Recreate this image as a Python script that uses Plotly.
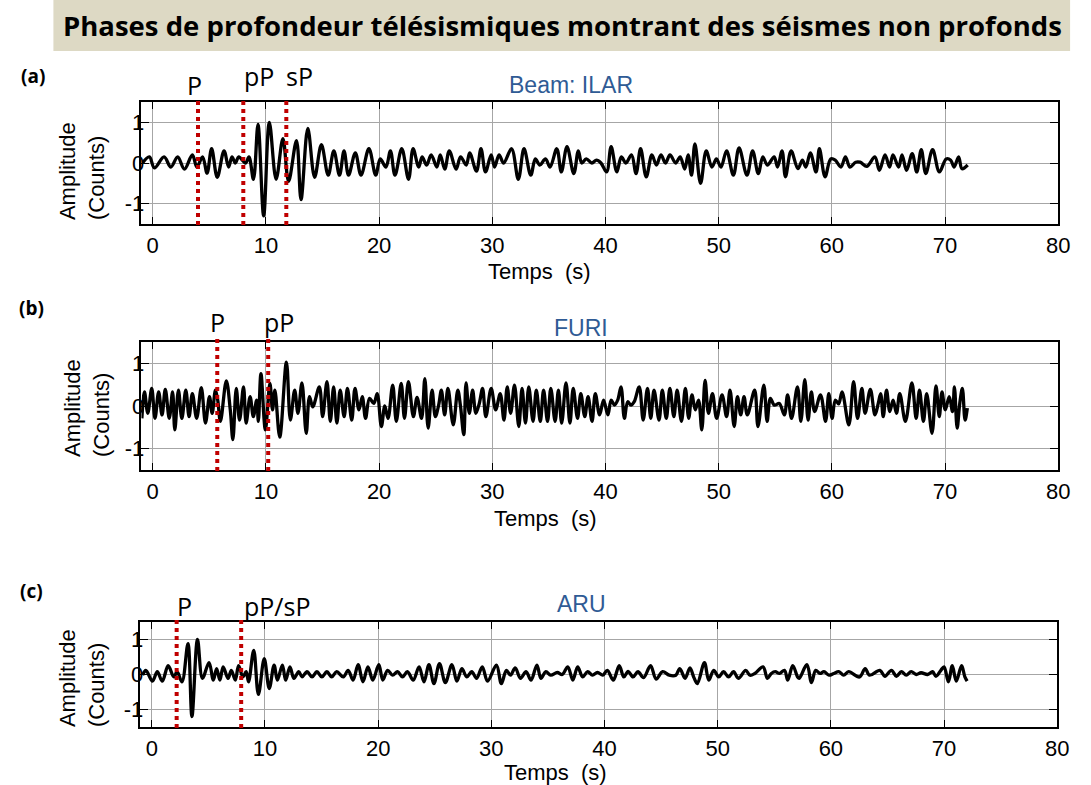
import plotly.graph_objects as go

W, H = 1091, 785

# ---------------- data ----------------
t_ilar = [-0.9, -0.3, 0.15, 1.0, 1.6, 2.2, 2.8, 3.5, 3.9, 4.4, 4.8, 5.2, 5.7, 6.3, 6.7, 7.0, 7.3, 7.6, 8.2, 8.5,
          8.9, 9.3, 9.8, 10.3, 10.9, 11.5, 12.0, 12.7, 13.1, 13.7, 14.3, 14.9, 15.5, 16.0, 16.5, 16.9, 17.3, 17.9,
          18.4, 19.1, 19.7, 20.1, 20.6, 21.0, 21.4, 22.0, 22.6, 23.0, 23.5, 23.8, 24.2, 24.6, 25.1, 25.4, 25.8,
          26.2, 26.8, 27.2, 27.7, 28.0, 28.6, 29.0, 29.4, 29.9, 30.2, 30.6, 31.0, 31.7, 32.3, 32.8, 33.4, 33.8,
          34.2, 34.7, 35.1, 35.7, 36.1, 36.6, 37.2, 37.6, 37.9, 38.3, 38.8, 39.2, 39.6, 40.1, 40.5, 41.0, 41.4,
          41.8, 42.3, 42.7, 43.1, 43.6, 44.1, 44.5, 44.9, 45.3, 45.7, 46.2, 46.6, 47.0, 47.3, 47.6, 47.9, 48.4,
          48.9, 49.4, 49.8, 50.2, 50.7, 51.3, 51.8, 52.5, 53.0, 53.5, 53.9, 54.3, 54.9, 55.2, 55.6, 55.9, 56.4,
          57.0, 57.4, 57.7, 58.1, 58.6, 58.9, 59.4, 59.9, 60.3, 60.8, 61.2, 61.6, 62.1, 62.5, 63.1, 63.8, 64.2,
          64.7, 65.1, 65.4, 65.9, 66.2, 66.6, 67.1, 67.5, 67.9, 68.3, 68.9, 69.5, 70.1, 70.5, 70.8, 71.2, 71.5,
          72.0]
a_ilar = [0.0, 0.15, -0.12, 0.15, -0.1, 0.15, -0.15, 0.2, -0.1, 0.15, -0.25, 0.35, -0.35, 0.3, -0.1, 0.15, 0.0,
          0.15, 0.0, 0.15, -0.4, 0.95, -1.3, 1.0, -0.4, 0.6, -0.45, 0.55, -0.9, 0.85, -0.35, 0.45, -0.3, 0.3, -0.3,
          0.3, -0.3, 0.25, -0.3, 0.35, -0.3, 0.1, -0.1, 0.3, -0.3, 0.35, -0.4, 0.35, -0.1, 0.15, -0.05, 0.2, -0.1,
          0.2, -0.15, 0.3, -0.15, 0.15, -0.05, 0.25, -0.2, 0.35, -0.22, 0.2, -0.1, 0.2, 0.0, 0.35, -0.4, 0.35,
          -0.3, 0.1, -0.05, 0.1, -0.1, 0.35, -0.22, 0.4, -0.26, 0.3, 0.0, 0.1, 0.0, 0.07, 0.0, -0.22, 0.4, -0.22,
          0.15, 0.0, 0.2, -0.26, 0.35, -0.34, 0.2, -0.05, 0.2, 0.0, 0.2, 0.0, 0.15, -0.15, 0.2, -0.3, 0.47, -0.5,
          0.3, -0.1, 0.1, -0.1, 0.3, -0.3, 0.37, -0.3, 0.3, -0.26, 0.15, -0.05, 0.15, -0.1, 0.3, -0.34, 0.3,
          -0.14, 0.07, -0.1, 0.25, -0.22, 0.35, -0.34, 0.1, 0.07, -0.1, 0.15, -0.1, 0.02, 0.02, -0.08, 0.15,
          -0.18, 0.2, -0.1, 0.2, -0.1, 0.2, -0.18, 0.23, -0.22, 0.33, -0.26, 0.33, -0.22, 0.1, 0.07, -0.1, 0.15,
          -0.14, -0.05]

t_furi = [-0.96, -0.73, -0.44, -0.09, 0.2, 0.52, 0.82, 1.11, 1.46, 1.75, 1.95, 2.27, 2.57, 2.92, 3.21, 3.5, 3.88,
          4.29, 4.66, 5.01, 5.25, 5.54, 5.74, 5.98, 6.5, 6.85, 7.08, 7.38, 7.67, 8.02, 8.25, 8.6, 8.89, 9.18, 9.33,
          9.56, 9.95, 10.35, 10.58, 10.79, 11.22, 11.81, 12.16, 12.54, 12.83, 13.18, 13.56, 13.85, 14.14, 14.72,
          15.01, 15.39, 15.69, 15.98, 16.27, 16.56, 16.91, 17.2, 17.58, 17.87, 18.22, 18.51, 18.8, 19.15, 19.53,
          19.83, 20.2, 20.5, 20.79, 21.2, 21.52, 21.95, 22.24, 22.59, 23.03, 23.35, 23.75, 24.04, 24.33, 24.68,
          24.97, 25.26, 25.5, 25.79, 26.08, 26.55, 26.95, 27.18, 27.48, 27.68, 27.97, 28.26, 28.55, 28.85, 29.14,
          29.43, 29.9, 30.3, 30.7, 31.03, 31.32, 31.62, 31.96, 32.34, 32.63, 32.93, 33.22, 33.6, 33.89, 34.24,
          34.53, 34.88, 35.17, 35.55, 35.84, 36.13, 36.51, 36.86, 37.15, 37.53, 37.82, 38.17, 38.46, 38.81, 39.1,
          39.48, 39.83, 40.21, 40.5, 40.79, 41.08, 41.37, 41.67, 41.96, 42.25, 42.54, 42.98, 43.33, 43.71, 44.0,
          44.29, 44.73, 45.02, 45.37, 45.69, 46.04, 46.33, 46.71, 47.06, 47.35, 47.64, 47.93, 48.22, 48.51, 48.8,
          49.1, 49.45, 49.82, 50.3, 50.7, 51.0, 51.37, 51.66, 51.95, 52.24, 52.53, 53.18, 53.47, 53.99, 54.28,
          54.57, 54.92, 55.36, 55.8, 56.09, 56.44, 56.96, 57.26, 57.61, 57.9, 58.19, 58.48, 59.0, 59.44, 59.73,
          60.02, 60.31, 60.6, 60.9, 61.5, 61.92, 62.27, 62.65, 62.94, 63.4, 63.81, 64.1, 64.31, 64.54, 64.83,
          65.12, 65.41, 65.71, 66.0, 66.5, 67.07, 67.45, 67.74, 68.09, 68.38, 68.85, 69.2, 69.49, 69.73, 70.02,
          70.37, 70.66, 70.83, 71.07, 71.3, 71.53, 71.77, 71.97]
a_furi = [-0.29, 0.33, -0.17, 0.41, -0.29, 0.33, -0.21, 0.39, -0.29, 0.33, -0.56, 0.37, -0.29, 0.37, -0.25, 0.29,
          -0.29, 0.43, -0.4, 0.22, -0.17, 0.37, 0.14, -0.36, 0.59, -0.09, -0.79, 0.41, -0.33, 0.45, -0.4, 0.22,
          -0.25, 0.14, -0.36, 0.76, -0.56, 0.53, -0.09, 0.37, -0.73, 1.03, -0.33, 0.37, -0.17, 0.54, -0.64, 0.22,
          -0.02, 0.45, -0.25, 0.57, -0.36, 0.45, -0.4, 0.37, -0.25, 0.41, -0.33, 0.41, -0.09, 0.22, -0.29, 0.18,
          0.06, 0.29, -0.48, 0.0, -0.29, 0.49, -0.36, 0.53, -0.29, 0.57, -0.25, 0.2, -0.29, 0.64, -0.52, 0.37,
          -0.25, 0.02, 0.37, -0.21, 0.41, -0.44, 0.37, 0.02, -0.67, 0.54, -0.17, 0.37, -0.17, 0.06, 0.41, -0.25,
          0.41, -0.09, 0.29, -0.33, 0.45, -0.17, 0.49, -0.48, 0.41, -0.4, 0.45, -0.36, 0.37, -0.36, 0.37, -0.36,
          0.41, -0.36, 0.37, -0.4, 0.54, -0.4, 0.41, -0.29, 0.29, -0.25, 0.22, -0.36, 0.29, -0.21, 0.14, -0.21,
          0.14, 0.02, 0.14, 0.45, -0.29, 0.1, 0.02, 0.1, 0.45, -0.33, 0.41, -0.29, 0.37, -0.33, 0.37, -0.29, 0.41,
          -0.25, 0.37, -0.36, 0.41, -0.29, 0.26, -0.09, 0.14, -0.56, 0.6, -0.17, 0.29, -0.29, 0.26, -0.25, 0.37,
          -0.48, 0.22, -0.21, 0.22, -0.21, 0.37, -0.48, 0.49, -0.36, 0.18, 0.02, 0.06, -0.21, 0.26, -0.29, 0.45,
          -0.36, 0.62, -0.33, 0.33, -0.13, 0.26, -0.36, 0.29, -0.29, 0.14, 0.05, 0.33, -0.44, 0.57, -0.29, 0.41,
          -0.17, 0.39, -0.21, 0.06, 0.29, -0.25, 0.37, -0.13, 0.14, -0.17, 0.29, -0.36, 0.54, -0.29, 0.37, -0.36,
          0.29, -0.64, 0.47, -0.25, 0.33, -0.09, 0.22, -0.13, 0.45, -0.52, 0.06, 0.41, -0.33, -0.05]

t_aru = [-0.81, -0.52, 0.06, 0.49, 0.93, 1.45, 1.95, 2.24, 2.67, 3.2, 3.55, 4.04, 4.48, 5.06, 5.44, 5.73, 6.02,
         6.31, 6.74, 7.03, 7.38, 7.67, 8.05, 8.34, 8.55, 9.01, 9.42, 9.94, 10.38, 10.81, 11.1, 11.54, 11.83, 12.21,
         12.56, 12.99, 13.28, 13.72, 14.16, 14.59, 15.03, 15.47, 15.9, 16.34, 16.92, 17.35, 17.79, 18.23, 18.66,
         19.1, 19.53, 20.06, 20.41, 20.84, 21.28, 21.72, 22.15, 22.59, 23.1, 23.62, 24.05, 24.49, 24.93, 25.42,
         25.94, 26.52, 26.96, 27.4, 27.83, 28.27, 28.7, 29.2, 29.67, 30.45, 30.89, 31.33, 31.7, 32.11, 32.58,
         33.07, 33.51, 34.03, 34.38, 34.82, 35.25, 35.83, 36.27, 36.76, 37.2, 37.63, 38.07, 38.51, 38.94, 39.38,
         39.85, 40.25, 40.78, 41.3, 41.71, 42.09, 42.52, 42.96, 43.45, 44.07, 44.56, 45.14, 45.72, 46.3, 46.65,
         47.12, 47.55, 47.9, 48.2, 48.83, 49.21, 49.65, 50.09, 50.52, 50.96, 51.4, 51.83, 52.47, 52.85, 53.28,
         54.01, 54.39, 54.74, 55.09, 55.46, 55.9, 56.19, 56.63, 57.06, 57.2, 57.88, 58.29, 58.66, 59.04, 59.39,
         59.83, 60.26, 60.7, 61.13, 61.57, 62.53, 63.03, 63.41, 64.33, 64.77, 65.35, 65.79, 66.23, 66.66, 67.1,
         67.54, 67.97, 68.55, 68.99, 69.28, 69.72, 70.0, 70.39, 70.73, 71.08, 71.55, 71.84, 72.04]
a_aru = [-0.02, 0.12, -0.19, 0.08, -0.19, 0.25, -0.07, 0.08, -0.21, 0.88, -1.2, 1.0, -0.11, 0.34, -0.16, 0.17,
         -0.16, 0.22, -0.11, 0.12, -0.16, 0.25, -0.07, 0.08, -0.21, 0.69, -0.57, 0.45, -0.4, 0.27, -0.16, 0.27,
         -0.16, 0.22, -0.11, 0.08, -0.07, 0.08, -0.07, 0.08, -0.07, 0.08, -0.07, 0.08, -0.07, 0.12, -0.16, 0.28,
         -0.21, 0.22, -0.16, 0.28, -0.16, 0.12, -0.02, 0.08, -0.07, 0.08, -0.16, 0.22, -0.21, 0.28, -0.26, 0.31,
         -0.23, 0.28, -0.19, 0.17, -0.07, 0.08, -0.11, 0.22, -0.19, 0.27, -0.26, 0.12, -0.02, 0.19, -0.11, 0.08,
         -0.16, 0.27, -0.11, 0.08, -0.02, 0.06, 0.0, 0.22, -0.16, 0.22, -0.07, 0.08, -0.02, 0.06, -0.02, 0.12,
         -0.16, 0.25, -0.07, 0.09, -0.07, 0.08, -0.09, 0.25, -0.13, 0.08, -0.02, -0.02, 0.17, -0.11, 0.19, -0.09,
         -0.26, 0.34, -0.16, 0.12, -0.07, 0.08, -0.07, 0.08, -0.11, 0.12, -0.02, 0.03, 0.22, -0.11, 0.03, 0.08,
         0.03, 0.12, -0.16, 0.25, -0.07, -0.11, 0.28, -0.23, 0.12, 0.03, 0.08, -0.02, 0.03, 0.08, -0.02, 0.08,
         -0.07, 0.17, -0.02, 0.12, -0.05, 0.12, -0.05, 0.08, -0.02, 0.08, 0.0, 0.05, 0.0, 0.08, -0.05, 0.12, 0.22,
         -0.21, 0.25, -0.19, 0.25, -0.07, -0.19]

stations = ["Beam: ILAR", "FURI", "ARU"]
panel_tags = ["(a)", "(b)", "(c)"]
phase_names = [["P", "pP", "sP"], ["P", "pP"], ["P", "pP/sP"]]
phase_times = [[4.0, 8.0, 11.8], [5.7, 10.2], [2.2, 7.9]]
x_ticks = [0, 10, 20, 30, 40, 50, 60, 70, 80]
y_ticks = [-1, 0, 1]
y_tick_text = ["-1", "0", "1"]
title_text = "Phases de profondeur télésismiques montrant des séismes non profonds"
x_title = "Temps\u00a0 (s)"
y_title = "Amplitude<br>(Counts)"

series = [(t_ilar, a_ilar), (t_furi, a_furi), (t_aru, a_aru)]

# ---------------- layout geometry (pixels) ----------------
def px(x):
    return x / W

def py(y):
    return 1 - y / H

frames = [  # left, right, top, bottom
    (143, 1070, 102, 224),
    (143, 1070, 342, 470),
    (142, 1069, 622, 727),
]
station_pos = [(577, 85), (587, 328), (588, 604)]
tag_pos = [(33, 76), (32, 308), (32, 591)]
xtitle_pos = [(545, 272), (552, 518), (562, 772)]
ytitle_pos = [(83, 171), (88, 408), (83, 678)]
phase_label_pos = [[(197, 85), (262, 76), (303, 76)],
                   [(220, 322), (282, 322)],
                   [(187, 606), (280, 606)]]

AX_FONT = dict(family="Liberation Sans, Arial, sans-serif", size=22, color="black")
TXT_FONT = "Open Sans, Noto Sans, sans-serif"
RED = "#c00000"
BLUE = "#2f5b95"
GRID = "#a6a6a6"

fig = go.Figure()
layout = dict(
    width=W, height=H, autosize=False,
    margin=dict(l=0, r=0, t=0, b=0),
    paper_bgcolor="white", plot_bgcolor="white",
    showlegend=False,
    annotations=[], shapes=[],
)

# title band
layout["shapes"].append(dict(type="rect", xref="paper", yref="paper",
                             x0=px(54), x1=px(1082), y0=py(51), y1=py(0),
                             fillcolor="#ddd9c4", line=dict(width=0), layer="below"))
layout["annotations"].append(dict(text="<b>" + title_text + "</b>", xref="paper", yref="paper",
                                  x=px(569), y=py(26), xanchor="center", yanchor="middle",
                                  showarrow=False, font=dict(family=TXT_FONT, size=27.5, color="black")))

for i, ((t, a), (l, r, top, bot)) in enumerate(zip(series, frames)):
    n = "" if i == 0 else str(i + 1)
    xa, ya = "xaxis" + n, "yaxis" + n
    xr, yr = "x" + n, "y" + n
    fig.add_trace(go.Scatter(x=t, y=a, mode="lines", xaxis=xr, yaxis=yr,
                             line=dict(color="black", width=3.3, shape="spline", smoothing=1.0),
                             hoverinfo="skip"))
    layout[xa] = dict(domain=[px(l), px(r)], range=[-1, 80], anchor=yr,
                      tickmode="array", tickvals=x_ticks, ticks="inside", ticklen=7,
                      tickcolor="black", tickwidth=1.2,
                      showline=True, linecolor="black", linewidth=1.5, mirror="ticks",
                      showgrid=True, gridcolor=GRID, gridwidth=1, zeroline=False,
                      tickfont=AX_FONT, ticklabelstandoff=1, fixedrange=True)
    layout[ya] = dict(domain=[py(bot), py(top)], range=[-1.5, 1.5], anchor=xr,
                      tickmode="array", tickvals=y_ticks, ticktext=y_tick_text,
                      ticks="inside", ticklen=8, tickcolor="black", tickwidth=1.2,
                      showline=True, linecolor="black", linewidth=1.5, mirror="ticks",
                      showgrid=True, gridcolor=GRID, gridwidth=1, zeroline=False,
                      tickfont=AX_FONT, ticklabelstandoff=-9, fixedrange=True)
    # phase markers
    for name, tp, (lx, ly) in zip(phase_names[i], phase_times[i], phase_label_pos[i]):
        layout["shapes"].append(dict(type="line", xref=xr, yref="paper", x0=tp, x1=tp,
                                     y0=py(bot + 1), y1=py(top - 4),
                                     line=dict(color=RED, width=4, dash="dot"), layer="above"))
        layout["annotations"].append(dict(text=name, xref="paper", yref="paper",
                                          x=px(lx), y=py(ly), xanchor="center", yanchor="middle",
                                          showarrow=False,
                                          font=dict(family=TXT_FONT, size=25, color="black")))
    sx, sy = station_pos[i]
    layout["annotations"].append(dict(text=stations[i], xref="paper", yref="paper",
                                      x=px(sx), y=py(sy), xanchor="center", yanchor="middle",
                                      showarrow=False,
                                      font=dict(family="Liberation Sans, Arial, sans-serif", size=23, color=BLUE)))
    tx, ty = tag_pos[i]
    layout["annotations"].append(dict(text="<b>" + panel_tags[i] + "</b>", xref="paper", yref="paper",
                                      x=px(tx), y=py(ty), xanchor="center", yanchor="middle",
                                      showarrow=False, font=dict(family=TXT_FONT, size=19, color="black")))
    xx, xy = xtitle_pos[i]
    layout["annotations"].append(dict(text=x_title, xref="paper", yref="paper",
                                      x=px(xx), y=py(xy), xanchor="center", yanchor="middle",
                                      showarrow=False, font=AX_FONT))
    yx, yy = ytitle_pos[i]
    layout["annotations"].append(dict(text=y_title, xref="paper", yref="paper",
                                      x=px(yx), y=py(yy), xanchor="center", yanchor="middle",
                                      textangle=-90, align="left", showarrow=False, font=AX_FONT))

fig.update_layout(**layout)
fig.write_html("out.html", config={"displayModeBar": False},
               post_script="document.body.style.margin='0px';document.body.style.overflow='hidden';")
